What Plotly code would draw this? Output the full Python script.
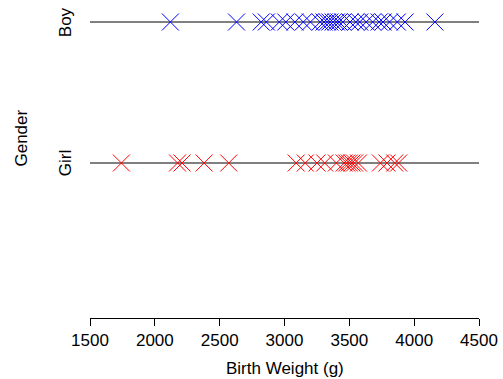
import plotly.graph_objects as go

groups = ["Girl", "Boy"]
boy_weights = [2120, 2630, 2820, 2860, 2960, 3010, 3080, 3145, 3200, 3275, 3305,
               3330, 3350, 3375, 3400, 3420, 3450, 3505, 3550, 3580, 3630, 3680,
               3730, 3760, 3810, 3870, 3930, 4160]
girl_weights = [1742, 2175, 2210, 2380, 2570, 3090, 3160, 3250, 3310, 3400, 3460,
                3480, 3500, 3520, 3540, 3570, 3740, 3790, 3850, 3880]
x_ticks = [1500, 2000, 2500, 3000, 3500, 4000, 4500]

FONT = "Liberation Sans, Arial, sans-serif"
FS = 17

fig = go.Figure()
ypos = {g: i + 1 for i, g in enumerate(groups)}

for g in groups:
    fig.add_shape(type="line", x0=x_ticks[0], x1=x_ticks[-1], y0=ypos[g], y1=ypos[g],
                  xref="x", yref="y", line=dict(color="black", width=1), layer="below")

fig.add_trace(go.Scatter(x=girl_weights, y=[ypos["Girl"]] * len(girl_weights), mode="markers",
                         marker=dict(symbol="x-thin-open", size=17, color="#FF0000",
                                     line=dict(color="#FF0000", width=1)),
                         showlegend=False))
fig.add_trace(go.Scatter(x=boy_weights, y=[ypos["Boy"]] * len(boy_weights), mode="markers",
                         marker=dict(symbol="x-thin-open", size=17, color="#0000FF",
                                     line=dict(color="#0000FF", width=1)),
                         showlegend=False))

T, B = 5, 318
H = B - T
unit = 141
ymax = 2 + (22 - T) / unit
ymin = ymax - H / unit

fig.update_layout(
    width=503, height=379,
    margin=dict(l=90, r=21, t=T, b=379 - B, pad=0),
    paper_bgcolor="white", plot_bgcolor="white",
    font=dict(family=FONT, size=FS, color="black"),
    xaxis=dict(range=[x_ticks[0], x_ticks[-1]], tickvals=x_ticks, ticktext=[str(v) for v in x_ticks],
               showgrid=False, zeroline=False, showline=True, linecolor="black", linewidth=1,
               ticks="outside", ticklen=7, tickcolor="black", tickwidth=1,
               tickfont=dict(family=FONT, size=FS)),
    yaxis=dict(range=[ymin, ymax], showgrid=False, zeroline=False, showline=False,
               showticklabels=False, ticks=""),
)

def px_to_paper_y(py):
    return (B - py) / H

def px_to_paper_x(px):
    return (px - 90) / 392

for g, py in [("Boy", 22), ("Girl", 163)]:
    fig.add_annotation(text=g, x=px_to_paper_x(65), y=px_to_paper_y(py), xref="paper", yref="paper",
                       textangle=-90, showarrow=False, xanchor="center", yanchor="middle",
                       font=dict(family=FONT, size=FS))
fig.add_annotation(text="Gender", x=px_to_paper_x(20), y=px_to_paper_y(138), xref="paper", yref="paper",
                   textangle=-90, showarrow=False, xanchor="center", yanchor="middle",
                   font=dict(family=FONT, size=FS))
fig.add_annotation(text="Birth Weight (g)", x=0.5, y=px_to_paper_y(368), xref="paper", yref="paper",
                   showarrow=False, xanchor="center", yanchor="middle",
                   font=dict(family=FONT, size=FS))

fig.write_html("out.html")
